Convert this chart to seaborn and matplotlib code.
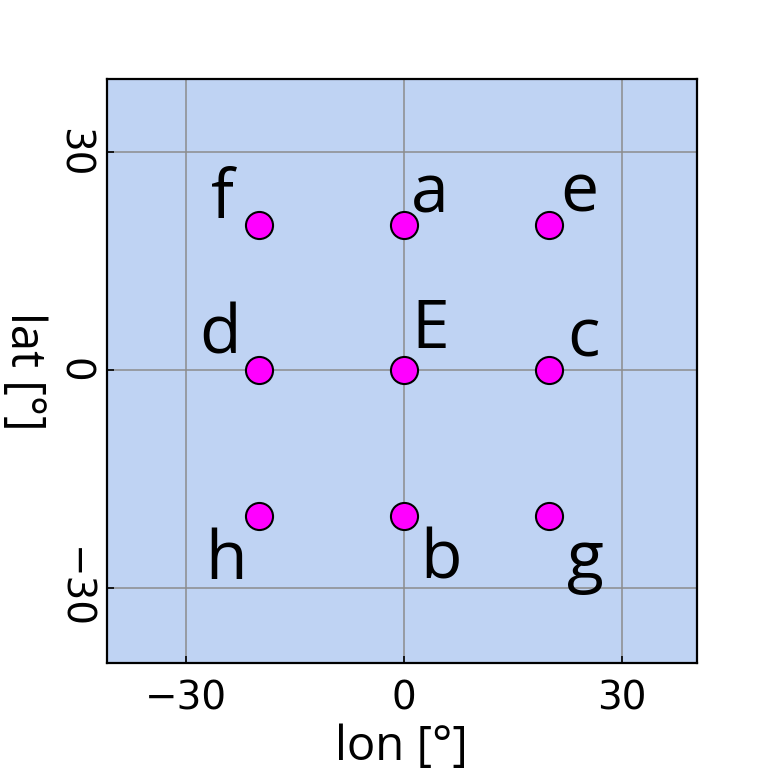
import matplotlib
matplotlib.use('Agg')
import matplotlib.pyplot as plt
import pandas as pd
import seaborn as sns

# Point data
names = ['a', 'b', 'c', 'd', 'e', 'f', 'g', 'h', 'E']
lon = [0, 0, 20, -20, 20, -20, 20, -20, 0]
lat = [20, -20, 0, 0, 20, 20, -20, -20, 0]
ticks = [-30, 0, 30]

# label offsets from each point (pixels)
label_offsets = {
    'a': (26, 13), 'b': (37, -63), 'c': (34, 14),
    'd': (-38, 17), 'e': (30, 14), 'f': (-36, 7),
    'g': (36, -63), 'h': (-32, -63), 'E': (26, 22),
}

df = pd.DataFrame({'name': names, 'lon': lon, 'lat': lat})

sns.set_style('ticks')
plt.rcParams['font.family'] = ['DejaVu Sans']

fig = plt.figure(figsize=(7.76, 7.76), dpi=100)
ax = fig.add_axes([0.1375, 0.1452, 0.7603, 0.7530])
ax.set_facecolor('#bfd3f3')

sns.scatterplot(data=df, x='lon', y='lat', color='#ff00ff', s=380,
                edgecolor='black', linewidth=1.5, zorder=3, ax=ax)

for _, row in df.iterrows():
    dx, dy = label_offsets[row['name']]
    ax.annotate(row['name'], (row['lon'], row['lat']), xytext=(dx, dy),
                textcoords='offset pixels', ha='center', va='baseline',
                fontsize=49, family='Open Sans', color='black', zorder=4)

ax.set_xlim(-40.9, 40.3)
ax.set_ylim(-40.3, 40.1)
ax.set_xticks(ticks)
ax.set_yticks(ticks)
ax.grid(True, color='#8c8c8c', linewidth=1.1)
ax.set_axisbelow(True)
ax.tick_params(direction='in', length=5, width=1.2, labelsize=28, colors='black')
ax.tick_params(axis='x', pad=12)
ax.tick_params(axis='y', pad=10, labelrotation=270)
for lab in ax.get_yticklabels():
    lab.set_va('center')

for sp in ax.spines.values():
    sp.set_color('black')
    sp.set_linewidth(1.6)

ax.set_xlabel('lon [°]', fontsize=34, family='Open Sans', color='black', labelpad=4)
ax.set_ylabel('lat [°]', fontsize=34, family='Open Sans', color='black',
              rotation=270, va='top', ha='center')
ax.yaxis.set_label_coords(-0.1, 0.5)

fig.savefig('out.png', dpi=100)
